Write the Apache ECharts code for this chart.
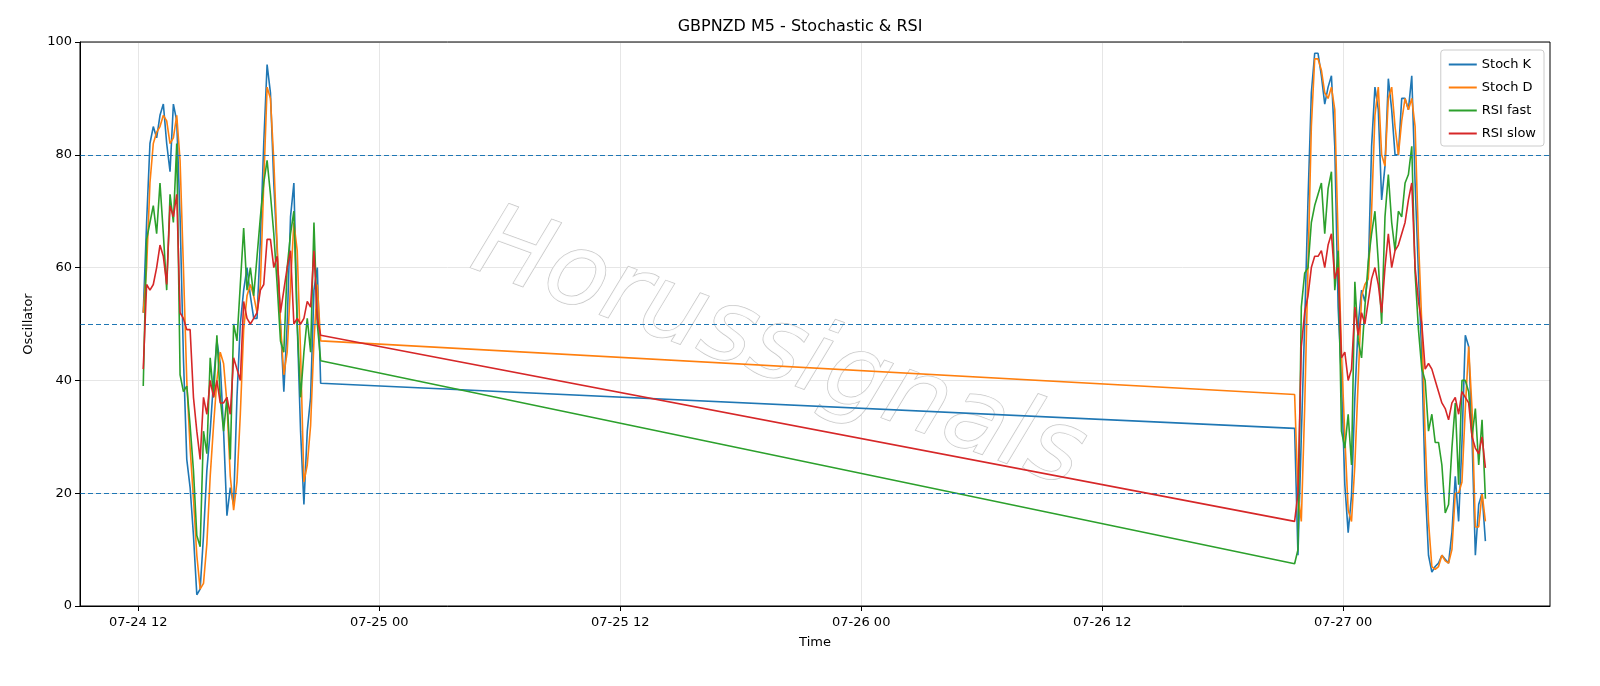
<!DOCTYPE html>
<html><head><meta charset="utf-8">
<script src="https://cdn.jsdelivr.net/npm/echarts@6/dist/echarts.min.js"></script>
<style>html,body{margin:0;padding:0;background:#fff}#c{width:1600px;height:686px}</style>
</head><body><div id="c"></div>
<script>
// hours from 07-24 00:00
const seg1Start = 12.25, seg2Start = 69.583, stepH = 10/60;
const stochK1 = [52,68,82,85,83,87,89,82,77,89,86,69,44,26,21,12.5,2,3,12.5,24,31,40,47,43,31,16,21,18,37,50,56,60,55,51,51,65,82,96,91,75,63,50,38,50,69,75,50,31,18,31,37,56,60,39.5];
const stochD1 = [52,60,75,82,84,85,87,86,82,83,87,79,60,40,28,19,9,3,4,11,23,32,40,45,43,36,23,17,22,34,49,55,57,55,52,57,75,92,90,79,64,50,41,45,57,68,63,45,22,25,32,47,57,47];
const rsiFast1 = [39,65,68,71,66,75,66,56,73,68,82,41,38,39,32,24,12.5,10.5,31,27,44,37,48,37,31,37,26,50,47,57,67,56,60,55,62,69,75,79,73,66,57,47,45,60,66,70,50,37,45,51,45,68,50,43.5];
const rsiSlow1 = [42,57,56,57,60,64,62,57,71,69,73,52,51,49,49,37,31,26,37,34,40,37,40,36,36,37,34,44,42,40,54,51,50,51,52,56,57,65,65,60,62,52,56,60,63,50,51,50,51,54,53,63,51,48];
const stochK2 = [31.5,9,30,50,72,91,98,98,94,89,92,94,81.5,53,40,21.5,13,19.6,37,50,56,54,59,81.5,92,88,72,78,93.5,88,80,80,90,90,88,94,75,59,44,21.5,9,6,7,7.6,9,8.3,7.6,13,23,15,29,48,46,30,9,18,20,11.5];
const stochD2 = [37.5,20,15,35,60,85,97,97,95,91,90,92,88,65,45,30,17,15,25,40,55,57,58,70,87,92,80,78,90,92,85,80,86,90,88,90,85,65,50,30,15,7,6.5,7,9,8,7.6,10,20,20,22,35,46,35,14,14,20,15];
const rsiFast2 = [7.5,10,53,59,60,68,71,73,75,66,74,77,56,63,31,28,34,25,57.5,47,44,53,61,66,70,61,50,69,76.5,68,63,70,69,75,76.5,81.5,59,49,42,40,31,34,29,29,25,16.5,18,28,36,21.5,40,40,38,30,35,25,33,19];
const rsiSlow2 = [15,20,46,52,55,60,62,62,63,60,64,66,58,60,44,45,40,42,53,48,52,50,54,58,60,57,52,60,66,60,63,64,66,68,72,75,60,54,50,42,43,42,40,38,36,35,33,36,37,34,38,37,36,30,28,27,30,24.5];
const tickHours = [12,24,36,48,60,72];
const tickLabels = ['07-24 12','07-25 00','07-25 12','07-26 00','07-26 12','07-27 00'];
const levels = [80,50,20];

function build(a,b){
  const out=[];
  a.forEach((v,i)=>out.push([seg1Start+i*stepH,v]));
  b.forEach((v,i)=>out.push([seg2Start+i*stepH,v]));
  return out;
}
const names=['Stoch K','Stoch D','RSI fast','RSI slow'];
const colors=['#1f77b4','#ff7f0e','#2ca02c','#d62728'];
const datas=[build(stochK1,stochK2),build(stochD1,stochD2),build(rsiFast1,rsiFast2),build(rsiSlow1,rsiSlow2)];
const font='DejaVu Sans';
const series=names.map((n,k)=>({name:n,type:'line',data:datas[k],showSymbol:false,symbol:'none',
  lineStyle:{width:1.6,color:colors[k]},itemStyle:{color:colors[k]},z:2+k,animation:false}));
series[0].markLine={silent:true,symbol:'none',label:{show:false},
  lineStyle:{type:[5,3],color:'#1f77b4',width:1.1},data:levels.map(v=>({yAxis:v}))};
const chart=echarts.init(document.getElementById('c'));
chart.setOption({
  animation:false,
  backgroundColor:'#fff',
  textStyle:{fontFamily:font},
  title:{text:'GBPNZD M5 - Stochastic & RSI',left:'center',top:14,textStyle:{fontFamily:font,fontSize:16,fontWeight:'normal',color:'#000'}},
  grid:{left:80,right:50,top:42,bottom:80},
  legend:{orient:'vertical',right:56,top:50,itemWidth:28,itemHeight:2,itemGap:10,icon:'rect',
    backgroundColor:'rgba(255,255,255,0.8)',borderColor:'#ccc',borderWidth:1,borderRadius:3,padding:[8,8,6,8],
    textStyle:{fontFamily:font,fontSize:13,color:'#000'},data:names},
  graphic:[
    {type:'text',x:778,y:352,rotation:-0.35,z:1,silent:true,
     style:{text:'Horussignals',fontSize:100,fontStyle:'italic',fontFamily:font,align:'center',verticalAlign:'middle',
       fill:'rgba(255,255,255,0.92)',stroke:'#c8c8c8',lineWidth:1.5,
       shadowColor:'rgba(0,0,0,0.22)',shadowBlur:2,shadowOffsetX:5,shadowOffsetY:5}},
    {type:'rect',shape:{x:80,y:42,width:1470,height:564},style:{fill:'none',stroke:'#000',lineWidth:1},silent:true,z:10}
  ],
  xAxis:{type:'value',min:9.1,max:82.3,name:'Time',nameLocation:'middle',nameGap:30,
    nameTextStyle:{fontFamily:font,fontSize:13,color:'#000'},
    axisLine:{show:true,onZero:false,lineStyle:{color:'#000',width:1}},
    axisTick:{show:true,customValues:tickHours,length:5,lineStyle:{color:'#000'}},
    axisLabel:{customValues:tickHours,formatter:v=>tickLabels[tickHours.indexOf(v)]||'',color:'#000',fontSize:13,fontFamily:font,margin:10},
    splitLine:{show:true,lineStyle:{color:'#e6e6e6',width:1}}},
  yAxis:{type:'value',min:0,max:100,interval:20,name:'Oscillator',nameLocation:'middle',nameGap:45,
    nameTextStyle:{fontFamily:font,fontSize:13,color:'#000'},
    axisLine:{show:true,lineStyle:{color:'#000',width:1}},
    axisTick:{show:true,length:5,lineStyle:{color:'#000'}},
    axisLabel:{color:'#000',fontSize:13,fontFamily:font,margin:8},
    splitLine:{show:true,lineStyle:{color:'#e6e6e6',width:1}}},
  series:series
});
</script></body></html>
